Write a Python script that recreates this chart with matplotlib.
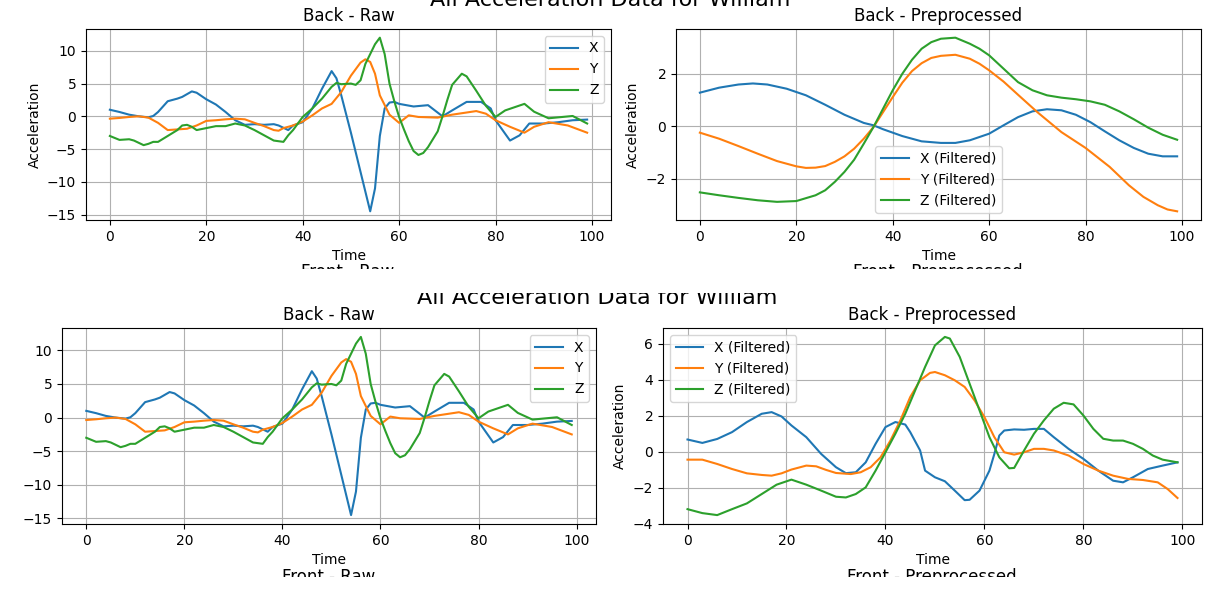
import numpy as np
import matplotlib
matplotlib.use("Agg")
import matplotlib.pyplot as plt
from matplotlib.patches import Rectangle

# ---- raw back sensor data (same in both snapshots) ----
raw_x_t = [0, 2, 4, 6, 8, 9, 10, 12, 14, 15, 17, 18, 20, 22, 24, 26, 28, 30, 32, 34, 35, 37, 38, 40,
           42, 44, 46, 47, 48, 50, 52, 53, 54, 55, 56, 57, 58, 59, 60, 63, 66, 69, 71, 74, 77, 79, 80,
           83, 85, 87, 90, 93, 96, 99]
raw_x = [1.0, 0.66, 0.25, 0.0, -0.15, 0.05, 0.66, 2.3, 2.7, 2.96, 3.8, 3.6, 2.6, 1.8, 0.66, -0.6, -1.3,
         -1.2, -1.3, -1.2, -1.4, -2.1, -1.4, -0.9, 1.2, 4.2, 6.9, 5.8, 3.2, -2.5, -8.5, -11.5, -14.5,
         -11.0, -3.0, 1.2, 2.1, 2.2, 1.9, 1.5, 1.7, 0.0, 0.9, 2.2, 2.2, 1.2, -0.6, -3.7, -2.9, -1.1,
         -1.1, -0.9, -0.6, -0.5]

raw_y_t = [0, 2, 4, 6, 8, 10, 12, 14, 16, 18, 20, 22, 24, 26, 28, 30, 32, 34, 35, 36, 38, 40, 42, 44,
           46, 48, 50, 52, 53, 54, 55, 56, 58, 60, 62, 64, 68, 71, 76, 78, 80, 83, 86, 88, 91, 95, 99]
raw_y = [-0.36, -0.25, -0.1, 0.0, -0.2, -1.0, -2.1, -2.0, -1.9, -1.4, -0.7, -0.6, -0.46, -0.36, -0.46,
         -1.0, -1.5, -2.1, -2.2, -1.8, -1.4, -0.8, 0.15, 1.2, 1.9, 3.7, 6.2, 8.2, 8.7, 8.3, 6.5, 3.2,
         0.25, -1.0, 0.15, -0.1, -0.2, 0.25, 0.8, 0.4, -0.6, -1.6, -2.5, -1.6, -0.9, -1.4, -2.5]

raw_z_t = [0, 2, 4, 5, 7, 8, 9, 10, 12, 14, 15, 16, 17, 18, 20, 22, 24, 26, 28, 30, 32, 34, 36, 37, 38,
           40, 42, 44, 46, 47, 48, 50, 51, 52, 53, 54, 55, 56, 57, 58, 59, 60, 61, 62, 63, 64, 65, 66,
           68, 69, 70, 71, 73, 74, 76, 78, 80, 82, 84, 86, 88, 91, 96, 99]
raw_z = [-3.0, -3.6, -3.5, -3.7, -4.4, -4.2, -3.9, -3.9, -3.0, -2.1, -1.4, -1.3, -1.6, -2.1, -1.8, -1.5,
         -1.5, -1.1, -1.4, -2.1, -2.9, -3.7, -3.9, -2.9, -2.1, -0.1, 1.2, 2.7, 4.5, 5.1, 4.9, 5.0, 4.8,
         5.5, 8.0, 9.5, 11.0, 12.0, 9.5, 5.0, 2.3, -0.1, -2.0, -3.8, -5.3, -5.9, -5.6, -4.7, -2.3, 0.0,
         2.5, 4.8, 6.5, 6.1, 3.9, 1.6, -0.1, 0.9, 1.4, 1.9, 0.7, -0.3, 0.05, -1.1]

# ---- preprocessed, first snapshot (strong smoothing) ----
pa_t = [0, 4, 8, 11, 14, 18, 22, 26, 30, 34, 36, 38, 42, 46, 50, 53, 56, 60, 63, 66, 69, 72, 75, 78,
        81, 84, 87, 90, 93, 96, 99]
pa_x = [1.28, 1.47, 1.59, 1.63, 1.59, 1.43, 1.18, 0.82, 0.44, 0.13, 0.04, -0.11, -0.37, -0.57, -0.63,
        -0.63, -0.53, -0.28, 0.04, 0.35, 0.57, 0.65, 0.61, 0.44, 0.16, -0.19, -0.53, -0.82, -1.04,
        -1.14, -1.14]

pa_y_t = [0, 4, 8, 12, 16, 20, 22, 24, 26, 28, 30, 32, 34, 36, 38, 40, 42, 44, 46, 48, 50, 53, 56, 58,
          60, 63, 66, 70, 75, 80, 85, 89, 92, 95, 97, 99]
pa_y = [-0.24, -0.47, -0.75, -1.04, -1.32, -1.52, -1.58, -1.57, -1.51, -1.35, -1.14, -0.85, -0.47,
        -0.03, 0.54, 1.11, 1.66, 2.1, 2.4, 2.6, 2.68, 2.72, 2.57, 2.38, 2.13, 1.7, 1.2, 0.54, -0.22,
        -0.82, -1.54, -2.24, -2.68, -3.0, -3.16, -3.23]

pa_z_t = [0, 4, 8, 12, 16, 20, 24, 26, 28, 30, 32, 34, 36, 38, 40, 42, 44, 46, 48, 50, 53, 56, 58, 60,
          63, 66, 69, 72, 75, 78, 81, 84, 87, 90, 93, 96, 99]
pa_z = [-2.51, -2.62, -2.72, -2.81, -2.87, -2.84, -2.62, -2.43, -2.11, -1.73, -1.27, -0.66, -0.03, 0.67,
        1.37, 2.0, 2.53, 2.95, 3.2, 3.33, 3.37, 3.14, 2.95, 2.7, 2.19, 1.68, 1.37, 1.18, 1.09, 1.03,
        0.95, 0.82, 0.57, 0.27, -0.05, -0.32, -0.51]

# ---- preprocessed, second snapshot (light smoothing) ----
pb_x_t = [0, 3, 6, 9, 12, 15, 17, 19, 21, 24, 27, 30, 32, 34, 36, 38, 40, 42, 44, 45, 47, 48, 50, 52,
          54, 56, 57, 59, 61, 62, 63, 64, 66, 68, 70, 72, 74, 77, 80, 83, 86, 88, 90, 93, 96, 99]
pb_x = [0.67, 0.48, 0.7, 1.08, 1.64, 2.1, 2.19, 1.95, 1.45, 0.8, -0.13, -0.87, -1.2, -1.15, -0.6, 0.43,
        1.36, 1.64, 1.5, 1.08, 0.06, -1.06, -1.43, -1.65, -2.17, -2.7, -2.68, -2.17, -1.06, -0.13, 0.89,
        1.17, 1.23, 1.21, 1.26, 1.26, 0.8, 0.15, -0.41, -1.06, -1.62, -1.71, -1.43, -0.97, -0.78, -0.6]

pb_y_t = [0, 3, 6, 9, 12, 15, 17, 19, 21, 24, 26, 28, 30, 33, 35, 37, 39, 41, 43, 45, 47, 49, 50, 52,
          54, 56, 58, 60, 62, 64, 66, 68, 70, 72, 74, 77, 80, 83, 86, 89, 92, 95, 97, 99]
pb_y = [-0.45, -0.45, -0.69, -0.97, -1.21, -1.3, -1.34, -1.21, -1.0, -0.78, -0.82, -1.02, -1.19, -1.25,
        -1.15, -0.87, -0.32, 0.61, 1.73, 3.03, 3.96, 4.37, 4.42, 4.24, 3.96, 3.59, 2.84, 1.91, 0.8,
        -0.04, -0.17, -0.04, 0.15, 0.15, 0.06, -0.22, -0.69, -1.06, -1.34, -1.52, -1.58, -1.71, -2.08,
        -2.58]

pb_z_t = [0, 3, 6, 9, 12, 15, 18, 21, 24, 27, 30, 32, 34, 36, 38, 40, 42, 44, 46, 48, 50, 52, 53, 55,
          57, 59, 61, 63, 65, 66, 68, 70, 72, 74, 76, 78, 80, 82, 84, 86, 88, 90, 92, 94, 96, 99]
pb_z = [-3.2, -3.42, -3.53, -3.2, -2.88, -2.36, -1.84, -1.56, -1.84, -2.17, -2.51, -2.55, -2.36, -1.99,
        -1.06, -0.04, 0.99, 2.1, 3.4, 4.7, 5.9, 6.37, 6.28, 5.26, 3.77, 2.29, 0.8, -0.32, -0.93, -0.91,
        0.06, 0.99, 1.73, 2.38, 2.71, 2.62, 2.0, 1.26, 0.71, 0.61, 0.61, 0.43, 0.15, -0.22, -0.45, -0.6]

W, H = 1212, 594
fig = plt.figure(figsize=(W / 100, H / 100), dpi=100)


def box(left, top, right, bottom):
    # pixel box -> figure fraction rect
    return [left / W, 1 - bottom / H, (right - left) / W, (bottom - top) / H]


def raw_panel(ax, ylabel=True):
    ax.plot(raw_x_t, raw_x, label='X')
    ax.plot(raw_y_t, raw_y, label='Y')
    ax.plot(raw_z_t, raw_z, label='Z')
    ax.set_title('Back - Raw')
    ax.set_xlabel('Time')
    if ylabel:
        ax.set_ylabel('Acceleration')
    ax.legend(loc='upper right')
    ax.grid(True)


def prep_panel(ax, tx, x, ty, y, tz, z, loc):
    ax.plot(tx, x, label='X (Filtered)')
    ax.plot(ty, y, label='Y (Filtered)')
    ax.plot(tz, z, label='Z (Filtered)')
    ax.set_title('Back - Preprocessed')
    ax.set_xlabel('Time')
    ax.set_ylabel('Acceleration')
    ax.legend(loc=loc)
    ax.grid(True)


# first snapshot
ax1 = fig.add_axes(box(86, 29, 611, 220))
raw_panel(ax1)
ax2 = fig.add_axes(box(676, 29, 1201, 220))
prep_panel(ax2, pa_t, pa_x, pa_y_t, pa_y, pa_z_t, pa_z, 'lower center')

# second snapshot
ax3 = fig.add_axes(box(62, 328, 596, 524))
raw_panel(ax3, ylabel=False)
ax4 = fig.add_axes(box(663, 328, 1202, 524))
prep_panel(ax4, pb_x_t, pb_x, pb_y_t, pb_y, pb_z_t, pb_z, 'upper left')

# suptitles and next-row titles, cut off by the crop
fig.text(610 / W, 1 - 6 / H, 'All Acceleration Data for William', ha='center', va='baseline', fontsize=16)
fig.text(597 / W, 1 - 304 / H, 'All Acceleration Data for William', ha='center', va='baseline', fontsize=16)
fig.text(348 / W, 1 - 277 / H, 'Front - Raw', ha='center', va='baseline', fontsize=12)
fig.text(938 / W, 1 - 277 / H, 'Front - Preprocessed', ha='center', va='baseline', fontsize=12)
fig.text(329 / W, 1 - 582 / H, 'Front - Raw', ha='center', va='baseline', fontsize=12)
fig.text(932 / W, 1 - 582 / H, 'Front - Preprocessed', ha='center', va='baseline', fontsize=12)

# white bands where the two snapshots were cut
fig.patches.append(Rectangle((0, 1 - 293 / H), 1, 24 / H, transform=fig.transFigure,
                             facecolor='white', edgecolor='none', zorder=20))
fig.patches.append(Rectangle((0, 0), 1, 17 / H, transform=fig.transFigure,
                             facecolor='white', edgecolor='none', zorder=20))

fig.savefig('out.png', dpi=100)
